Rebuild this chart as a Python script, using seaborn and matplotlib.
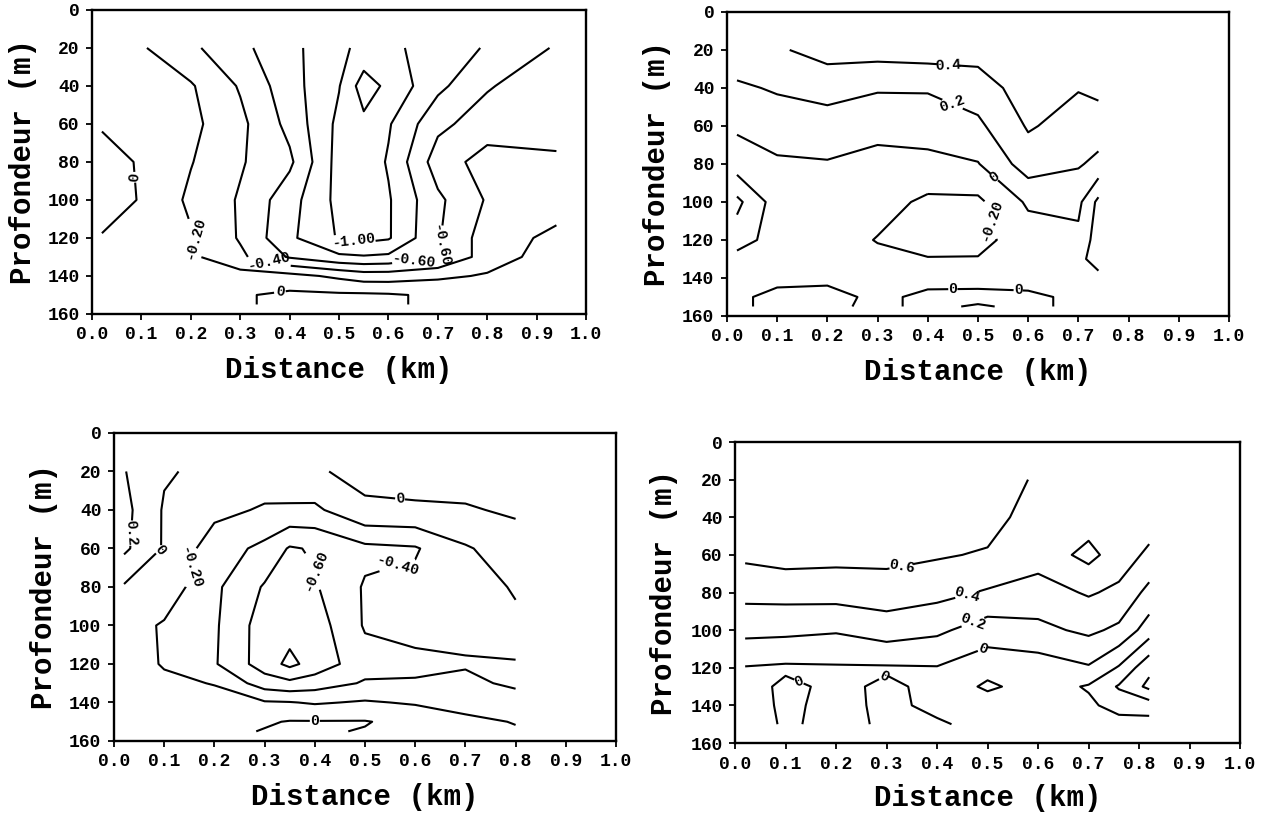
import matplotlib
matplotlib.use("Agg")
import matplotlib.pyplot as plt
import seaborn as sns

# --- panneau 1 (haut gauche) ---
dist_1 = [0.02, 0.1, 0.2, 0.3, 0.4, 0.5, 0.55, 0.6, 0.7, 0.8, 0.94]
prof_1 = [20, 40, 60, 80, 100, 120, 130, 140, 150, 155]
val_1 = [
    [-0.05, -0.18, -0.36, -0.55, -0.74, -0.96, -1.05, -1.04, -0.92, -0.78, -0.58],
    [-0.03, -0.10, -0.18, -0.42, -0.72, -0.99, -1.30, -1.15, -0.85, -0.62, -0.45],
    [-0.02, -0.08, -0.15, -0.35, -0.66, -1.05, -1.15, -1.02, -0.65, -0.50, -0.45],
    [0.08, -0.02, -0.19, -0.38, -0.56, -1.08, -1.12, -0.98, -0.50, -0.32, -0.38],
    [0.07, -0.01, -0.24, -0.42, -0.72, -1.06, -1.10, -1.02, -0.64, -0.38, -0.30],
    [-0.01, -0.08, -0.18, -0.42, -0.76, -1.02, -1.06, -1.02, -0.62, -0.30, -0.15],
    [-0.02, -0.10, -0.16, -0.36, -0.62, -0.76, -0.78, -0.76, -0.62, -0.30, -0.10],
    [-0.02, -0.06, -0.10, -0.12, -0.14, -0.24, -0.30, -0.30, -0.24, -0.18, -0.05],
    [-0.02, -0.04, -0.04, -0.02, 0.04, 0.03, 0.03, 0.02, -0.03, -0.05, -0.02],
    [-0.03, -0.03, -0.03, -0.02, 0.04, 0.02, 0.03, 0.02, -0.03, -0.03, -0.03],
]
niveaux_1 = [-1.2, -1.0, -0.8, -0.6, -0.4, -0.2, 0.0]

# --- panneau 2 (haut droite) ---
dist_2 = [0.02, 0.1, 0.2, 0.3, 0.4, 0.5, 0.6, 0.7, 0.74]
prof_2 = [20, 40, 60, 80, 100, 120, 130, 140, 150, 155]
val_2 = [
    [0.32, 0.38, 0.46, 0.48, 0.50, 0.48, 0.55, 0.55, 0.50],
    [0.17, 0.22, 0.30, 0.22, 0.22, 0.30, 0.50, 0.41, 0.45],
    [0.03, 0.10, 0.08, 0.06, 0.08, 0.16, 0.42, 0.32, 0.30],
    [-0.10, -0.03, -0.01, -0.06, -0.05, -0.01, 0.30, 0.22, 0.15],
    [-0.45, -0.10, -0.10, -0.12, -0.24, -0.24, 0.03, 0.05, -0.25],
    [-0.30, -0.10, -0.10, -0.21, -0.28, -0.26, -0.10, -0.05, -0.30],
    [-0.12, -0.08, -0.08, -0.15, -0.19, -0.19, -0.08, -0.15, -0.28],
    [-0.04, -0.03, -0.02, -0.05, -0.03, -0.04, -0.04, -0.10, -0.15],
    [-0.02, 0.03, 0.03, -0.02, 0.02, 0.03, 0.02, -0.02, -0.05],
    [-0.02, 0.03, 0.02, -0.02, 0.02, -0.01, 0.02, -0.02, -0.05],
]
niveaux_2 = [-0.4, -0.2, 0.0, 0.2, 0.4]

# --- panneau 3 (bas gauche) ---
dist_3 = [0.02, 0.1, 0.2, 0.3, 0.35, 0.4, 0.5, 0.6, 0.7, 0.8]
prof_3 = [20, 40, 60, 80, 100, 120, 130, 140, 150, 155]
val_3 = [
    [0.21, 0.02, -0.05, -0.10, -0.06, -0.02, 0.05, 0.06, 0.10, 0.12],
    [0.26, -0.02, -0.15, -0.22, -0.23, -0.24, -0.03, -0.02, -0.02, 0.03],
    [0.24, -0.02, -0.30, -0.45, -0.62, -0.58, -0.45, -0.42, -0.22, -0.10],
    [-0.02, -0.08, -0.36, -0.62, -0.68, -0.62, -0.38, -0.35, -0.30, -0.18],
    [-0.12, -0.22, -0.37, -0.70, -0.72, -0.70, -0.38, -0.33, -0.33, -0.24],
    [-0.08, -0.22, -0.38, -0.70, -0.85, -0.72, -0.48, -0.45, -0.42, -0.42],
    [-0.06, -0.15, -0.21, -0.50, -0.55, -0.50, -0.38, -0.38, -0.35, -0.44],
    [-0.04, -0.08, -0.12, -0.18, -0.19, -0.22, -0.18, -0.22, -0.28, -0.30],
    [-0.02, -0.04, -0.05, -0.02, 0.01, 0.01, 0.01, -0.06, -0.15, -0.21],
    [-0.02, -0.04, -0.05, 0.01, 0.02, 0.02, -0.01, -0.04, -0.12, -0.18],
]
niveaux_3 = [-0.8, -0.6, -0.4, -0.2, 0.0, 0.2]

# --- panneau 4 (bas droite) ---
dist_4 = [0.02, 0.1, 0.2, 0.3, 0.4, 0.5, 0.6, 0.7, 0.76, 0.82]
prof_4 = [20, 40, 60, 80, 100, 120, 130, 140, 150]
val_4 = [
    [0.80, 0.80, 0.80, 0.80, 0.82, 0.80, 0.55, 0.52, 0.50, 0.55],
    [0.72, 0.72, 0.72, 0.72, 0.75, 0.68, 0.50, 0.50, 0.52, 0.50],
    [0.64, 0.68, 0.66, 0.66, 0.62, 0.58, 0.48, 0.66, 0.50, 0.36],
    [0.46, 0.47, 0.48, 0.50, 0.46, 0.38, 0.32, 0.42, 0.36, 0.14],
    [0.26, 0.25, 0.22, 0.30, 0.24, 0.10, 0.15, 0.24, 0.16, -0.10],
    [-0.01, -0.03, -0.02, -0.02, -0.01, -0.12, -0.10, -0.02, -0.22, -0.55],
    [-0.08, 0.04, -0.04, 0.03, -0.04, -0.24, -0.10, -0.22, -0.42, -0.65],
    [-0.10, 0.04, -0.06, 0.04, -0.04, -0.08, -0.08, -0.16, -0.28, -0.30],
    [-0.08, 0.02, -0.04, 0.02, 0.02, -0.05, -0.05, -0.08, -0.12, -0.12],
]
niveaux_4 = [-0.6, -0.4, -0.2, 0.0, 0.2, 0.4, 0.6]

# textes des étiquettes de contour
noms_1 = {-1.2: "-1.20", -1.0: "-1.00", -0.8: "-0.80", -0.6: "-0.60", -0.4: "-0.40", -0.2: "-0.20", 0.0: "0"}
noms_2 = {-0.4: "-0.40", -0.2: "-0.20", 0.0: "0", 0.2: "0.2", 0.4: "0.4"}
noms_3 = {-0.8: "-0.80", -0.6: "-0.60", -0.4: "-0.40", -0.2: "-0.20", 0.0: "0", 0.2: "0.2"}
noms_4 = {-0.6: "-0.6", -0.4: "-0.4", -0.2: "-0.2", 0.0: "0", 0.2: "0.2", 0.4: "0.4", 0.6: "0.6"}

sns.set_theme(style="ticks")
plt.rcParams["font.family"] = ["Liberation Mono", "DejaVu Sans Mono"]
plt.rcParams["font.weight"] = "bold"
plt.rcParams["axes.labelweight"] = "bold"
plt.rcParams["contour.negative_linestyle"] = "solid"
for k in ["text.color", "axes.labelcolor", "xtick.color", "ytick.color", "axes.edgecolor"]:
    plt.rcParams[k] = "black"

fig = plt.figure(figsize=(12.68, 8.14), dpi=100)

panneaux = [
    ([0.0726, 0.6143, 0.3896, 0.3735], dist_1, prof_1, val_1, niveaux_1, noms_1,
     [(0.09, 88), (0.21, 120), (0.36, 131), (0.53, 121), (0.65, 129), (0.72, 124), (0.38, 148)]),
    ([0.5733, 0.6118, 0.3959, 0.3735], dist_2, prof_2, val_2, niveaux_2, noms_2,
     [(0.44, 28), (0.45, 48), (0.53, 88), (0.52, 110), (0.45, 147), (0.58, 148)]),
    ([0.0899, 0.0897, 0.3959, 0.3784], dist_3, prof_3, val_3, niveaux_3, noms_3,
     [(0.03, 52), (0.095, 62), (0.155, 70), (0.39, 72), (0.57, 74), (0.57, 34), (0.4, 153)]),
    ([0.5797, 0.0872, 0.3983, 0.3698], dist_4, prof_4, val_4, niveaux_4, noms_4,
     [(0.33, 67), (0.46, 82), (0.47, 95), (0.49, 110), (0.13, 125), (0.3, 128)]),
]

for rect, dist, prof, val, niveaux, noms, places in panneaux:
    ax = fig.add_axes(rect)
    cs = ax.contour(dist, prof, val, levels=niveaux, colors="black",
                    linewidths=1.5, linestyles="solid")
    txt = ax.clabel(cs, manual=places, inline=True, inline_spacing=2, fontsize=10.5,
                    fmt=lambda v, noms=noms: noms[round(v, 1)])
    for t in txt:
        t.set_fontweight("bold")
        t.set_color("black")

    ax.set_xlim(0, 1)
    ax.set_ylim(160, 0)
    ax.set_xticks([i / 10 for i in range(11)])
    ax.set_xticklabels([f"{i / 10:.1f}" for i in range(11)])
    ax.set_yticks(range(0, 161, 20))
    ax.tick_params(direction="out", length=4, width=1.3, colors="black",
                   labelsize=13, pad=5)
    for lab in ax.get_xticklabels() + ax.get_yticklabels():
        lab.set_fontweight("bold")
    for s in ax.spines.values():
        s.set_linewidth(1.7)
        s.set_color("black")

    ax.set_xlabel("Distance (km)", fontsize=21, fontweight="bold")
    ax.set_ylabel("Profondeur (m)", fontsize=21, fontweight="bold")
    ax.xaxis.set_label_coords(0.5, -0.183)
    ax.yaxis.set_label_coords(-0.14, 0.5)
    ax.xaxis.label.set_va("center")
    ax.yaxis.label.set_va("center")

fig.savefig("out.png", dpi=100)
